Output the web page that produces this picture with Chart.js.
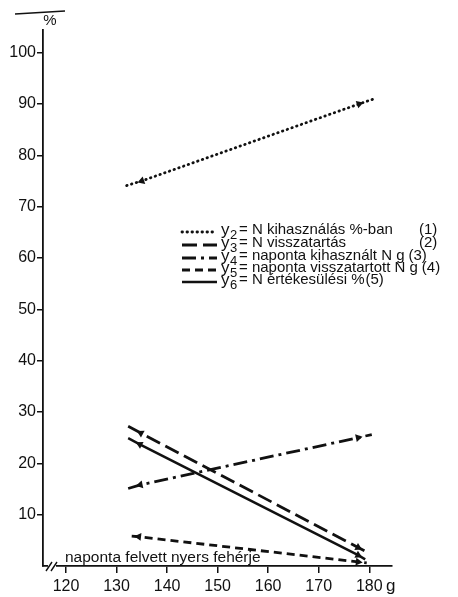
<!DOCTYPE html>
<html>
<head>
<meta charset="utf-8">
<script src="https://cdn.jsdelivr.net/npm/chart.js@4"></script>
<style>
  html, body { margin: 0; padding: 0; background: #fff; }
  #wrap { width: 458px; height: 597px; position: relative; }
</style>
</head>
<body>
<div id="wrap"><canvas id="nChart" width="458" height="597"></canvas></div>
<script>
// values (g crude protein per day -> %)
const xTicks = [120, 130, 140, 150, 160, 170, 180];
const yTicks = [10, 20, 30, 40, 50, 60, 70, 80, 90, 100];

const y2X = [132, 135, 178, 181];
const y2 = [74.1, 75, 90, 91];
const y3X = [132.3, 134.8, 177.8, 179.2];
const y3 = [27.2, 25.9, 3.6, 2.9];
const y4X = [132.3, 134.7, 177.8, 180.5];
const y4 = [15.1, 15.8, 25.0, 25.6];
const y5X = [133, 134.4, 177.8, 179.5];
const y5 = [5.8, 5.7, 0.8, 0.6];
const y6X = [132.3, 134.6, 177.8, 179.2];
const y6 = [24.9, 23.7, 2.1, 1.3];

const seriesNames = ['2', '3', '4', '5', '6'];
const legendTexts = ['N kihasználás %-ban', 'N visszatartás', 'naponta kihasznált N g', 'naponta visszatartott N g', 'N értékesülési %'];
const legendNums = ['(1)', '(2)', '(3)', '(4)', '(5)'];
const xTitle = 'naponta felvett nyers fehérje';

const INK = '#111';
const FONT = 'Liberation Sans';

function pts(xs, ys) {
    return xs.map(function (x, i) { return { x: x, y: ys[i] }; });
}

// arrow heads point away from the middle of the line
function arrowRotation(ctx) {
    const data = ctx.chart.data.datasets[ctx.datasetIndex].data;
    const sx = ctx.chart.scales.x, sy = ctx.chart.scales.y;
    const a = data[0], b = data[data.length - 1];
    let dx = sx.getPixelForValue(b.x) - sx.getPixelForValue(a.x);
    let dy = sy.getPixelForValue(b.y) - sy.getPixelForValue(a.y);
    if (ctx.dataIndex < data.length / 2) { dx = -dx; dy = -dy; }
    return Math.atan2(dy, dx) * 180 / Math.PI + 90;
}

const styles = [
    { dash: [0.5, 4.5], cap: 'round', width: 2.8 },
    { dash: [15, 6], cap: 'butt', width: 2.8 },
    { dash: [14, 5, 3, 5], cap: 'butt', width: 2.8 },
    { dash: [8, 5], cap: 'butt', width: 2.8 },
    { dash: [], cap: 'butt', width: 2.5 }
];
const allData = [pts(y2X, y2), pts(y3X, y3), pts(y4X, y4), pts(y5X, y5), pts(y6X, y6)];

const datasets = allData.map(function (d, i) {
    return {
        label: 'y' + seriesNames[i],
        data: d,
        borderColor: INK,
        backgroundColor: INK,
        borderWidth: styles[i].width,
        borderDash: styles[i].dash,
        borderCapStyle: styles[i].cap,
        pointStyle: 'triangle',
        pointRadius: [0, 4.5, 4.5, 0],
        pointBorderWidth: 0,
        pointRotation: arrowRotation,
        tension: 0
    };
});

const extras = {
    id: 'extras',
    afterDraw: function (chart) {
        const c = chart.ctx;
        const area = chart.chartArea;
        c.save();
        c.strokeStyle = INK;
        c.fillStyle = INK;

        // top stroke and % unit
        c.lineWidth = 1.6;
        c.beginPath();
        c.moveTo(15, 14);
        c.lineTo(65, 11);
        c.stroke();
        c.font = '15px "' + FONT + '"';
        c.textAlign = 'center';
        c.textBaseline = 'middle';
        c.fillText('%', 50, 21);

        // axis break
        const yb = area.bottom;
        c.fillStyle = '#fff';
        c.fillRect(48, yb - 3, 8, 6);
        c.fillStyle = INK;
        c.lineWidth = 1.4;
        c.beginPath();
        c.moveTo(46, yb + 5); c.lineTo(52, yb - 4);
        c.moveTo(51, yb + 5); c.lineTo(57, yb - 4);
        c.stroke();

        // unit after last x tick
        c.font = '17px "' + FONT + '"';
        c.textAlign = 'left';
        c.fillText('g', 386, 586);

        // x title sitting on the axis
        c.font = '15.5px "' + FONT + '"';
        c.textBaseline = 'alphabetic';
        c.fillText(xTitle, 65, 562);

        // legend
        const rowY = [230, 243, 256, 268, 280];
        legendTexts.forEach(function (t, i) {
            const y = rowY[i];
            c.save();
            c.lineWidth = styles[i].width;
            c.setLineDash(styles[i].dash);
            c.lineCap = styles[i].cap;
            c.beginPath();
            c.moveTo(182, y + 2);
            c.lineTo(217, y + 2);
            c.stroke();
            c.restore();

            c.textBaseline = 'middle';
            c.textAlign = 'left';
            c.font = '17px "' + FONT + '"';
            c.fillText('y', 221, y);
            c.font = '13px "' + FONT + '"';
            c.fillText(seriesNames[i], 230, y + 5);
            c.font = '15px "' + FONT + '"';
            const body = '= ' + t;
            c.fillText(body, 239, y);
            const w = c.measureText(body).width;
            const nx = i < 2 ? 419 : 239 + w + (i === 4 ? 1 : 4);
            c.fillText(legendNums[i], nx, y);
        });
        c.restore();
    }
};

new Chart(document.getElementById('nChart').getContext('2d'), {
    type: 'line',
    data: { datasets: datasets },
    options: {
        responsive: false,
        animation: false,
        layout: { padding: { top: 30, right: 66, left: 0, bottom: 0 } },
        plugins: {
            legend: { display: false },
            tooltip: { enabled: false }
        },
        scales: {
            x: {
                type: 'linear',
                min: 115.45,
                max: 184.5,
                afterBuildTicks: function (s) { s.ticks = xTicks.map(function (v) { return { value: v }; }); },
                afterFit: function (s) { s.height = 31; },
                border: { display: true, color: INK, width: 1.8 },
                grid: { drawOnChartArea: false, drawTicks: true, tickLength: 7, color: INK, lineWidth: 1.5 },
                ticks: { color: INK, padding: 4, font: { family: FONT, size: 16 }, maxRotation: 0 }
            },
            y: {
                type: 'linear',
                min: 0,
                max: 104.4,
                afterBuildTicks: function (s) { s.ticks = yTicks.map(function (v) { return { value: v }; }); },
                afterFit: function (s) { s.width = 43; },
                border: { display: true, color: INK, width: 1.8 },
                grid: { drawOnChartArea: false, drawTicks: true, tickLength: 6, color: INK, lineWidth: 1.5 },
                ticks: { color: INK, padding: 1, font: { family: FONT, size: 16 } }
            }
        }
    },
    plugins: [extras]
});
</script>
</body>
</html>
